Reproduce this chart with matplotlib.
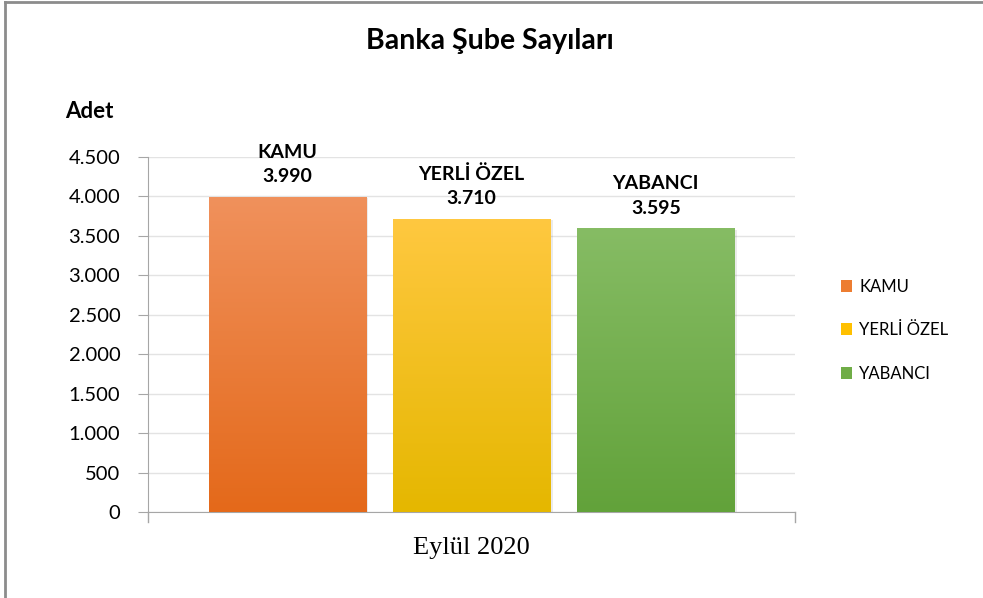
import numpy as np
import matplotlib
matplotlib.use("Agg")
import matplotlib.pyplot as plt
from matplotlib.colors import LinearSegmentedColormap
from matplotlib.patches import Rectangle

# data
categories = ['KAMU', 'YERLİ ÖZEL', 'YABANCI']
values = [3990, 3710, 3595]
period = 'Eylül 2020'
yticks = [0, 500, 1000, 1500, 2000, 2500, 3000, 3500, 4000, 4500]

# gradient colours: (top, bottom)
grads = [('#F0915C', '#E4691A'), ('#FFC840', '#E5B700'), ('#86BC64', '#62A23A')]
legend_colors = ['#ED7D31', '#FFC000', '#70AD47']

plt.rcParams['font.family'] = ['Lato', 'DejaVu Sans']

fig = plt.figure(figsize=(9.83, 5.98), dpi=100)
ax = fig.add_axes([0.1506, 0.1438, 0.658, 0.5937])

width = 0.243
xs = [0.5 + (i - 1) * 0.285 for i in range(len(values))]

def fmt(v):
    return f'{v:,}'.replace(',', '.')

handles = []
for x, v, (top, bot), lc, name in zip(xs, values, grads, legend_colors, categories):
    # soft shadow
    ax.add_patch(Rectangle((x - width / 2 + 0.004, 0), width, v - 15, facecolor='#000000',
                           alpha=0.08, edgecolor='none', zorder=2))
    cmap = LinearSegmentedColormap.from_list(name, [bot, top])
    grad = np.linspace(0, 1, 256).reshape(-1, 1)
    ax.imshow(grad, cmap=cmap, aspect='auto', origin='lower',
              extent=(x - width / 2, x + width / 2, 0, v), zorder=3)
    ax.text(x, v + 150, f'{name}\n{fmt(v)}', ha='center', va='bottom', fontsize=14,
            fontweight='bold', linespacing=1.55, zorder=4)
    handles.append(Rectangle((0, 0), 1, 1, facecolor=lc, edgecolor='none'))

ax.set_xlim(0, 1)
ax.set_ylim(0, 4500)
ax.set_yticks(yticks)
ax.set_yticklabels([fmt(t) for t in yticks], fontsize=14.5)
ax.set_xticks([0, 1])
ax.set_xticklabels([])
ax.tick_params(axis='x', direction='in', length=0)
ax.tick_params(axis='y', length=7, color='#A6A6A6', pad=13)
ax.grid(axis='y', color='#E3E3E3', linewidth=1, zorder=0)
ax.set_axisbelow(True)
for s in ['top', 'right']:
    ax.spines[s].set_visible(False)
ax.spines['left'].set_color('#A6A6A6')
ax.spines['bottom'].set_color('#A6A6A6')
# category boundary ticks below the x axis
for xb in (0, 1):
    ax.plot([xb, xb], [0, -0.028], transform=ax.get_xaxis_transform(), color='#A6A6A6',
            lw=1, clip_on=False)

ax.text(0.5, -0.1, period, transform=ax.transAxes, ha='center', va='center',
        fontsize=19, family='Liberation Serif')

fig.text(0.4985, 0.932, 'Banka Şube Sayıları', ha='center', va='center', fontsize=20.5,
         fontweight='bold')
fig.text(0.066, 0.814, 'Adet', ha='left', va='center', fontsize=16, fontweight='bold')

leg = fig.legend(handles, categories, loc='center left', bbox_to_anchor=(0.84, 0.448),
                 frameon=False, fontsize=12, handlelength=0.7, handleheight=0.7,
                 labelspacing=1.65, handletextpad=0.4)

# chart frame
fig.add_artist(plt.Line2D([0.0055, 0.0055], [0, 0.997], color='#8C8C8C', lw=2))
fig.add_artist(plt.Line2D([0.0055, 1], [0.997, 0.997], color='#8C8C8C', lw=2))

fig.savefig('out.png', dpi=100)
